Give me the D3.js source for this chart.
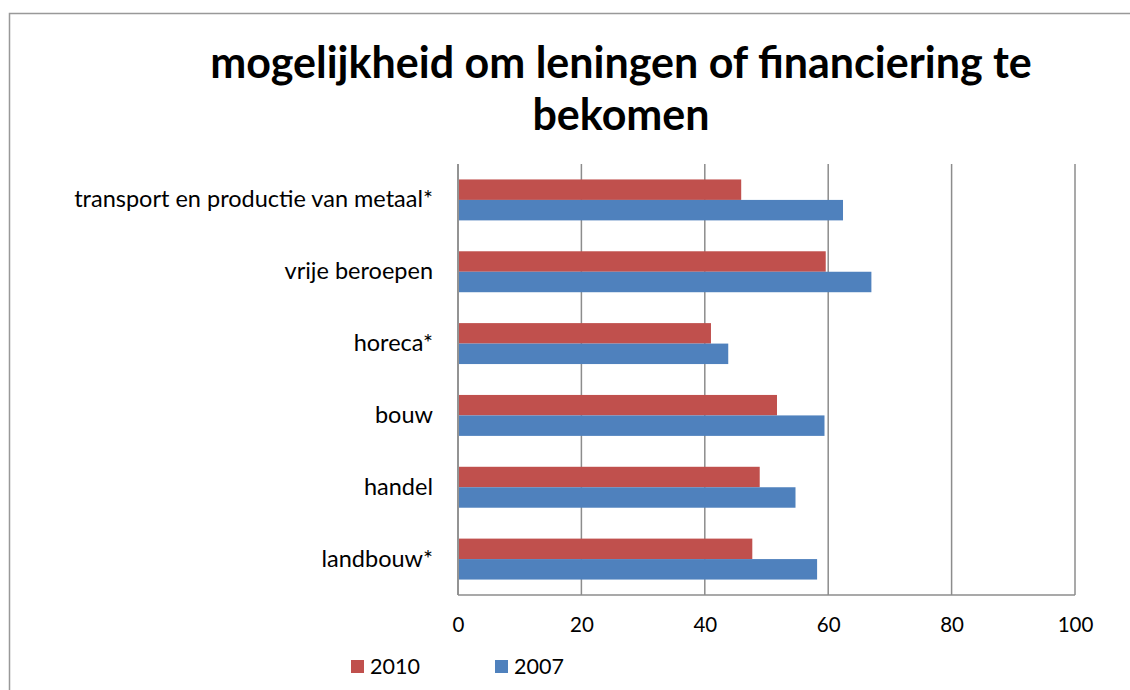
<!DOCTYPE html>
<html>
<head>
<meta charset="utf-8">
<script src="https://cdn.jsdelivr.net/npm/d3@7"></script>
<style>
  body { margin: 0; background: #fff; }
  svg { display: block; font-family: Lato, "Open Sans", sans-serif; }
</style>
</head>
<body>
<svg id="chart" width="1130" height="690"></svg>
<script>
  // data
  const categories = [
    "transport en productie van metaal*",
    "vrije beroepen",
    "horeca*",
    "bouw",
    "handel",
    "landbouw*"
  ];
  const series = ["2010", "2007"];
  const values2010 = [45.9, 59.6, 41.0, 51.7, 48.9, 47.7];
  const values2007 = [62.4, 67.0, 43.8, 59.4, 54.7, 58.2];
  const xTicks = [0, 20, 40, 60, 80, 100];
  const titleLines = ["mogelijkheid om leningen of financiering te", "bekomen"];

  const colors = { "2010": "#C0504D", "2007": "#4F81BD" };
  const gridColor = "#8c8c8c";

  const svg = d3.select("#chart");

  // outer chart border (cropped on right and bottom)
  svg.append("path")
    .attr("d", "M9.5,690 V13.5 H1130")
    .attr("fill", "none")
    .attr("stroke", "#999")
    .attr("stroke-width", 1.5);

  // plot area
  const plot = { left: 458, right: 1075, top: 164, bottom: 595 };

  const x = d3.scaleLinear().domain([0, 100]).range([plot.left, plot.right]);
  const y = d3.scaleBand().domain(categories)
    .range([plot.top, plot.bottom])
    .paddingInner(0.43).paddingOuter(0.215);
  const ySub = d3.scaleBand().domain(series).range([0, y.bandwidth()]);

  // vertical gridlines
  svg.append("g")
    .selectAll("line")
    .data(xTicks)
    .join("line")
    .attr("x1", d => x(d)).attr("x2", d => x(d))
    .attr("y1", plot.top).attr("y2", plot.bottom)
    .attr("stroke", gridColor)
    .attr("stroke-width", 1.5);

  // bottom axis line
  svg.append("line")
    .attr("x1", plot.left).attr("x2", plot.right)
    .attr("y1", plot.bottom).attr("y2", plot.bottom)
    .attr("stroke", gridColor)
    .attr("stroke-width", 1.5);

  // bars
  const rows = categories.map((c, i) => ({ cat: c, "2010": values2010[i], "2007": values2007[i] }));
  const groups = svg.append("g")
    .selectAll("g")
    .data(rows)
    .join("g")
    .attr("transform", d => `translate(0,${y(d.cat)})`);

  groups.selectAll("rect")
    .data(d => series.map(s => ({ s, v: d[s] })))
    .join("rect")
    .attr("x", x(0) + 1)
    .attr("y", d => ySub(d.s))
    .attr("width", d => x(d.v) - x(0) - 1)
    .attr("height", ySub.bandwidth())
    .attr("fill", d => colors[d.s]);

  // x axis labels
  const xAxis = d3.axisBottom(x).tickValues(xTicks).tickSize(0).tickPadding(22);
  const gx = svg.append("g")
    .attr("transform", `translate(0,${plot.bottom})`)
    .call(xAxis);
  gx.select(".domain").remove();
  gx.selectAll("text")
    .attr("font-family", "Lato, sans-serif")
    .attr("font-size", 20.5)
    .attr("fill", "#000");

  // category labels
  const gy = svg.append("g")
    .attr("transform", `translate(${plot.left},0)`)
    .call(d3.axisLeft(y).tickSize(0).tickPadding(25));
  gy.select(".domain").remove();
  gy.selectAll("text")
    .attr("font-family", "Lato, sans-serif")
    .attr("font-size", 23.5)
    .attr("fill", "#000");

  // category axis line
  svg.append("line")
    .attr("x1", plot.left).attr("x2", plot.left)
    .attr("y1", plot.top).attr("y2", plot.bottom)
    .attr("stroke", gridColor)
    .attr("stroke-width", 1.5);

  // title
  svg.append("g")
    .selectAll("text")
    .data(titleLines)
    .join("text")
    .attr("x", 621)
    .attr("y", (d, i) => 78 + i * 52)
    .attr("text-anchor", "middle")
    .attr("font-weight", "bold")
    .attr("font-size", 43)
    .attr("fill", "#000")
    .text(d => d);

  // legend
  const legendX = [351, 495];
  const legend = svg.append("g")
    .selectAll("g")
    .data(series)
    .join("g")
    .attr("transform", (d, i) => `translate(${legendX[i]},660)`);
  legend.append("rect")
    .attr("width", 13).attr("height", 13)
    .attr("fill", d => colors[d]);
  legend.append("text")
    .attr("x", 19).attr("y", 14)
    .attr("font-size", 21.5)
    .attr("fill", "#000")
    .text(d => d);
</script>
</body>
</html>
